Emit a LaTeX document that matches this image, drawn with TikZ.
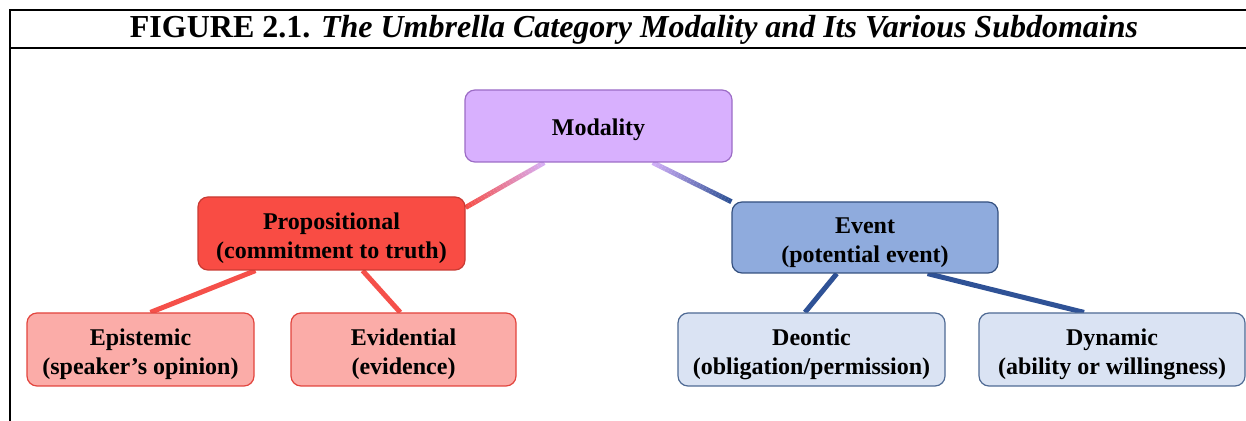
\documentclass[tikz,border=0pt]{standalone}
\usepackage{fontspec}
\setmainfont{Liberation Serif}
\usepackage{xcolor}
\usetikzlibrary{calc, backgrounds}

\definecolor{modfill}{HTML}{D8B0FE}
\definecolor{moddraw}{HTML}{9C6CC6}
\definecolor{propfill}{HTML}{F94C44}
\definecolor{propdraw}{HTML}{C93A33}
\definecolor{subpfill}{HTML}{FBACA8}
\definecolor{subpdraw}{HTML}{E2453E}
\definecolor{eventfill}{HTML}{8FABDD}
\definecolor{eventdraw}{HTML}{34507F}
\definecolor{subefill}{HTML}{DAE3F3}
\definecolor{subedraw}{HTML}{4F6A94}
\definecolor{redline}{HTML}{F5504A}
\definecolor{blueline}{HTML}{2F5296}
\definecolor{paleline}{HTML}{D6B2FA}

\tikzset{
	box/.style = {rounded corners = 5pt, line width = 0.6pt, align = center, inner sep = 0pt,
		text height = 27.5pt, font = \fontsize{12}{14.5}\selectfont\bfseries},
	link/.style = {line width = 2.5pt}
}

% gradient connector: from, to, start colour, end colour
\newcommand{\gradlink}[4]{%
	\foreach \i in {1,...,25}{
		\pgfmathtruncatemacro{\pct}{\i*4}
		\draw [link, #4!\pct!#3] ($(#1)!{(\i-1)/25}!(#2)$) -- ($(#1)!{\i/25}!(#2)$);
	}%
}

\begin{document}
\begin{tikzpicture}[x = 0.5pt, y = -0.5pt]
		\useasboundingbox (0,0) rectangle (1246,421);
		
		% frame and title
		\draw [line width = 1pt] (1246,10) -- (10,10) -- (10,421);
		\draw [line width = 1pt] (10,48) -- (1246,48);
		\node [anchor = base] (title) at (634,38)
			{\fontsize{16}{19}\selectfont\textbf{FIGURE 2.1.} \textbf{\textit{The Umbrella Category Modality and Its Various Subdomains}}};
		
		\node [box, text height = 12.5pt, fill = modfill, draw = moddraw, minimum width = 133.5pt, minimum height = 36pt] (mod) at (598.5,126) {Modality};
		
		\node [box, fill = propfill, draw = propdraw, minimum width = 133.5pt, minimum height = 36.5pt] (prop) at (331.5,233.5) {Propositional\\(commitment to truth)};
		\node [box, fill = eventfill, draw = eventdraw, minimum width = 133pt, minimum height = 35.5pt] (event) at (865,237.5) {Event\\(potential event)};
		
		\node [box, fill = subpfill, draw = subpdraw, minimum width = 113.5pt, minimum height = 36.5pt] (epist) at (140.5,349.5) {Epistemic\\(speaker’s opinion)};
		\node [box, fill = subpfill, draw = subpdraw, minimum width = 112.5pt, minimum height = 36.5pt] (evid) at (403.5,349.5) {Evidential\\(evidence)};
		\node [box, fill = subefill, draw = subedraw, minimum width = 133.5pt, minimum height = 36.5pt] (deon) at (811.5,349.5) {Deontic\\(obligation/permission)};
		\node [box, fill = subefill, draw = subedraw, minimum width = 133pt, minimum height = 36.5pt] (dyn) at (1112,349.5) {Dynamic\\(ability or willingness)};
		
		\begin{scope}[on background layer]
		\gradlink{mod.214}{prop.11.5}{paleline}{redline}
		\gradlink{mod.326.5}{event.165.4}{paleline}{blueline}
		\draw [link, redline] (prop.206.4) -- (epist.75.4);
		\draw [link, redline] (prop.310) -- (evid.95.5);
		\draw [link, blueline] (event.232.7) -- (deon.100);
		\draw [link, blueline] (event.330.6) -- (dyn.127);
		\end{scope}
	\end{tikzpicture}
\end{document}
